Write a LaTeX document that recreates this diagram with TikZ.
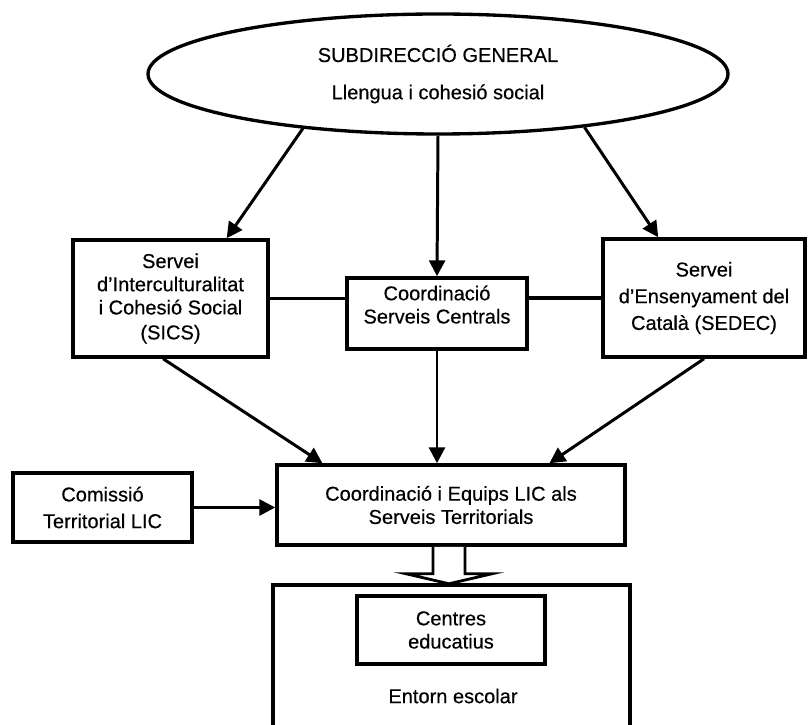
\documentclass[tikz,border=0pt]{standalone}
\usepackage{fontspec}
\setmainfont{Liberation Sans}[FakeBold=0.4]
\usepackage{tikz}
\usetikzlibrary{arrows.meta,shapes.geometric}

\begin{document}
\begin{tikzpicture}[
				box/.style={
					rectangle,
					draw=black,
					fill=white,
					line width=2pt,
					align=center,
					inner sep=2pt,
					font=\fontsize{11.4}{13.2}\selectfont
				},
				link/.style={
					draw=black,
					line width=1.8pt
				},
				flow/.style={
					draw=black,
					line width=1.7pt,
					-{Triangle[length=9pt,width=9pt]}
				}
			]

				\useasboundingbox (0,0) rectangle (16.22,-14.5);

				\node[box, ellipse, line width=1.9pt, minimum width=11.6cm, minimum height=2.4cm] (sub) at (8.76,-1.48)
					{SUBDIRECCIÓ GENERAL\\[8pt] Llengua i cohesió social};

				\node[box, minimum width=3.9cm, minimum height=2.34cm] (sics) at (3.41,-5.97)
					{Servei\\ d’Interculturalitat\\ i Cohesió Social\\[1pt] (SICS)};
				\node[box, minimum width=3.6cm, minimum height=1.42cm, text depth=0.36cm] (coord) at (8.74,-6.27)
					{Coordinació\\ Serveis Centrals};
				\node[box, minimum width=4.04cm, minimum height=2.36cm] (sedec) at (14.08,-5.96)
					{Servei\\[2pt] d’Ensenyament del\\[2pt] Català (SEDEC)};

				\node[box, minimum width=6.96cm, minimum height=1.6cm] (lic) at (9.02,-10.1)
					{Coordinació i Equips LIC als\\ Serveis Territorials};
				\node[box, minimum width=3.58cm, minimum height=1.38cm] (com) at (2.05,-10.15)
					{Comissió\\[2pt] Territorial LIC};

				\node[box, minimum width=7.14cm, minimum height=3.1cm] (entorn) at (9.03,-13.25) {};
				\node[box, minimum width=3.76cm, minimum height=1.36cm] (centres) at (9.02,-12.6)
					{Centres\\ educatius};
				\node[font=\fontsize{11.4}{13.2}\selectfont] (escolar) at (9.06,-13.92) {Entorn escolar};

				\draw[flow] (sub.202) -- (sics.47);
				\draw[flow] (sub.south) -- (coord.north);
				\draw[flow] (sub.-20) -- (sedec.127);

				\draw[link] (sics.east) -- (sics.east -| coord.west);
				\draw[link] (coord.east |- sedec.west) -- (sedec.west);

				\draw[flow] (sics.263) -- (lic.162);
				\draw[flow] (coord.south) -- (coord.south |- lic.north);
				\draw[flow] (sedec.south) -- (lic.23);

				\draw[flow] (com.east) -- (com.east -| lic.west);

				% hollow arrow down to the school environment
				\draw[line width=1.6pt, fill=white, line join=miter]
					([xshift=-0.36cm]lic.south) -- ([xshift=-0.36cm, yshift=-0.54cm]lic.south)
					-- ([xshift=-0.9cm, yshift=-0.54cm]lic.south)
					-- ([xshift=-0.04cm, yshift=-0.74cm]lic.south)
					-- ([xshift=0.82cm, yshift=-0.54cm]lic.south)
					-- ([xshift=0.28cm, yshift=-0.54cm]lic.south)
					-- ([xshift=0.28cm]lic.south);

			\end{tikzpicture}
\end{document}
